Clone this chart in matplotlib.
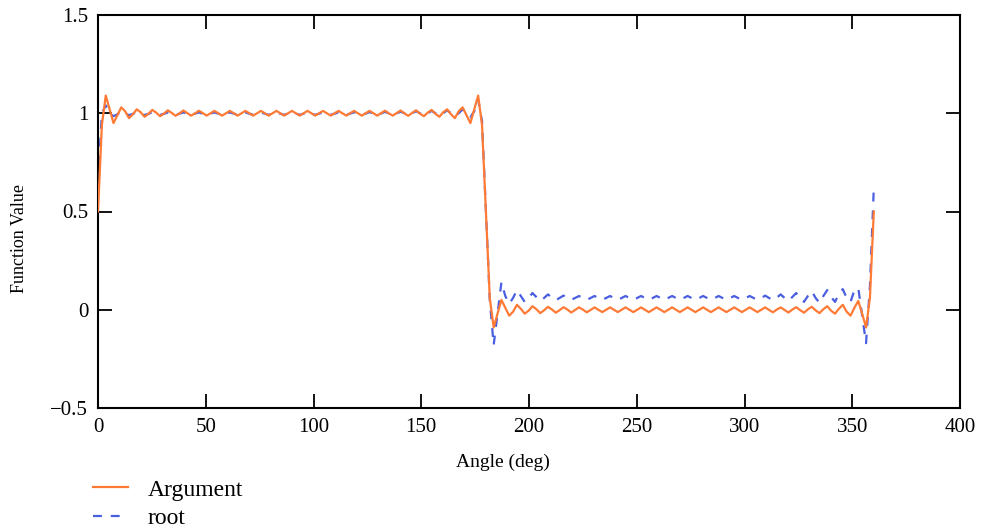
"""
Square wave partial sums: Argument vs root, plotted over one period.
"""

import matplotlib
import matplotlib.pyplot as plt
import numpy as np

matplotlib.use("Agg")

# angle grid, 1.8 deg step from 0 to 360 (201 samples)
angle = np.linspace(0, 360, 201)

argument = [
    0.50, 0.94, 1.09, 1.02, 0.95, 0.99, 1.03, 1.01, 0.975, 0.995,
    1.02, 1.005, 0.982, 0.997, 1.017, 1.003, 0.985, 0.998, 1.015, 1.002,
    0.987, 0.999, 1.014, 1.001, 0.988, 0.999, 1.013, 1.001, 0.988, 1.0,
    1.012, 1.0, 0.988, 1.0, 1.012, 1.0, 0.988, 1.0, 1.012, 1.0,
    0.988, 1.0, 1.012, 1.0, 0.988, 1.0, 1.012, 1.0, 0.988, 1.0,
    1.012, 1.0, 0.988, 1.0, 1.012, 1.0, 0.988, 1.0, 1.012, 1.0,
    0.988, 1.0, 1.012, 1.0, 0.988, 1.0, 1.012, 1.0, 0.988, 1.0,
    1.012, 1.0, 0.988, 1.001, 1.013, 0.999, 0.988, 1.001, 1.014, 0.999,
    0.987, 1.002, 1.015, 0.998, 0.985, 1.003, 1.017, 0.997, 0.982, 1.005,
    1.02, 0.995, 0.975, 1.01, 1.03, 0.99, 0.95, 1.02, 1.09, 0.94,
    0.50, 0.06, -0.09, -0.02, 0.05, 0.01, -0.03, -0.01, 0.025, 0.005,
    -0.02, -0.005, 0.018, 0.003, -0.017, -0.003, 0.015, 0.002, -0.015, -0.002,
    0.013, 0.001, -0.014, -0.001, 0.012, 0.001, -0.013, -0.001, 0.012, 0.0,
    -0.012, 0.0, 0.012, 0.0, -0.012, 0.0, 0.012, 0.0, -0.012, 0.0,
    0.012, 0.0, -0.012, 0.0, 0.012, 0.0, -0.012, 0.0, 0.012, 0.0,
    -0.012, 0.0, 0.012, 0.0, -0.012, 0.0, 0.012, 0.0, -0.012, 0.0,
    0.012, 0.0, -0.012, 0.0, 0.012, 0.0, -0.012, 0.0, 0.012, 0.0,
    -0.012, 0.0, 0.012, -0.001, -0.013, 0.001, 0.012, -0.001, -0.014, 0.001,
    0.013, -0.002, -0.015, 0.002, 0.015, -0.003, -0.017, 0.003, 0.018, -0.005,
    -0.02, 0.005, 0.025, -0.01, -0.03, 0.01, 0.045, -0.02, -0.09, 0.06,
    0.50,
]

root = [
    0.65, 1.00, 1.04, 1.0, 0.985, 0.995, 1.01, 1.0, 0.99, 0.997,
    1.006, 0.999, 0.991, 0.997, 1.005, 0.999, 0.992, 0.997, 1.004, 0.998,
    0.992, 0.998, 1.004, 0.998, 0.992, 0.998, 1.004, 0.998, 0.992, 0.998,
    1.004, 0.998, 0.992, 0.998, 1.004, 0.998, 0.992, 0.998, 1.004, 0.998,
    0.992, 0.998, 1.004, 0.998, 0.992, 0.998, 1.004, 0.998, 0.992, 0.998,
    1.004, 0.998, 0.992, 0.998, 1.004, 0.998, 0.992, 0.998, 1.004, 0.998,
    0.992, 0.998, 1.004, 0.998, 0.992, 0.998, 1.005, 0.998, 0.992, 0.998,
    1.006, 0.999, 0.991, 0.999, 1.007, 0.999, 0.99, 0.999, 1.008, 1.0,
    0.99, 1.0, 1.01, 1.0, 0.988, 1.0, 1.012, 1.0, 0.987, 1.0,
    1.015, 1.0, 0.985, 1.0, 1.02, 1.0, 0.98, 1.01, 1.07, 0.96,
    0.50, 0.05, -0.18, -0.02, 0.14, 0.07, 0.03, 0.06, 0.10, 0.07,
    0.04, 0.06, 0.085, 0.065, 0.045, 0.06, 0.078, 0.062, 0.048, 0.06,
    0.072, 0.06, 0.05, 0.06, 0.07, 0.06, 0.05, 0.06, 0.07, 0.06,
    0.05, 0.06, 0.07, 0.06, 0.05, 0.06, 0.07, 0.06, 0.05, 0.06,
    0.07, 0.06, 0.05, 0.06, 0.07, 0.06, 0.05, 0.06, 0.07, 0.06,
    0.05, 0.06, 0.07, 0.06, 0.05, 0.06, 0.07, 0.06, 0.05, 0.06,
    0.07, 0.06, 0.05, 0.06, 0.07, 0.06, 0.05, 0.06, 0.07, 0.06,
    0.05, 0.06, 0.072, 0.06, 0.048, 0.062, 0.078, 0.06, 0.045, 0.065,
    0.085, 0.06, 0.04, 0.07, 0.095, 0.06, 0.035, 0.07, 0.10, 0.065,
    0.04, 0.08, 0.105, 0.06, 0.04, 0.10, 0.11, -0.03, -0.17, 0.12,
    0.62,
]

x_ticks = [0, 50, 100, 150, 200, 250, 300, 350, 400]
y_ticks = [-0.5, 0, 0.5, 1, 1.5]
y_tick_labels = ["\u22120.5", "0", "0.5", "1", "1.5"]

plt.rcParams["font.family"] = ["Liberation Serif", "DejaVu Serif"]

fig = plt.figure(figsize=(9.83, 5.29), dpi=100)
ax = fig.add_axes([98 / 983, 1 - 408 / 529, (960 - 98) / 983, (408 - 15) / 529])

ax.plot(angle, argument, color="#ff7a35", lw=1.6, label="Argument", zorder=3)
ax.plot(angle, root, color="#4a5fe0", lw=1.6, ls=(0, (4, 4)), label="root", zorder=2)

ax.set_xlim(0, 400)
ax.set_ylim(-0.5, 1.5)
ax.set_xticks(x_ticks)
ax.set_xticklabels([str(t) for t in x_ticks])
ax.set_yticks(y_ticks)
ax.set_yticklabels(y_tick_labels)

ax.tick_params(direction="in", length=10, width=1.3, top=True, right=True,
               labelsize=15, pad=7, colors="black")
for sp in ax.spines.values():
    sp.set_linewidth(1.5)

fig.text(503 / 983, 1 - 462 / 529, "Angle (deg)", ha="center", va="center", fontsize=14)
fig.text(20 / 983, 1 - 238 / 529, "Function Value", ha="center", va="center",
         rotation=90, fontsize=13)

ax.legend(loc="upper left", bbox_to_anchor=(93 / 983, 1 - 479 / 529),
          bbox_transform=fig.transFigure, frameon=False, fontsize=17,
          handlelength=1.5, handletextpad=0.8, labelspacing=0.3,
          borderpad=0, borderaxespad=0)

fig.savefig("out.png", dpi=100)
plt.close(fig)
